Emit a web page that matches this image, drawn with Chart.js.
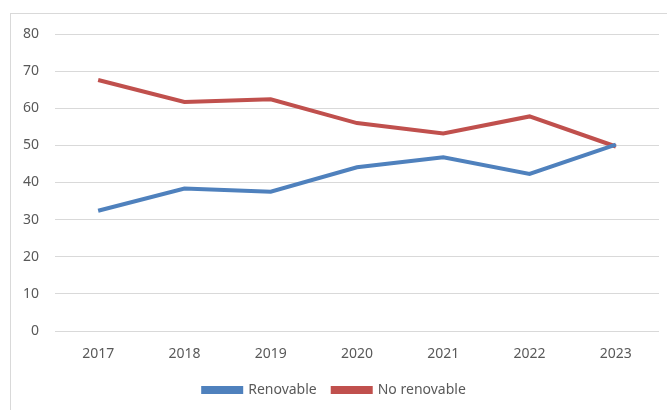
<!DOCTYPE html>
<html>
<head>
  <title>Renovable vs No renovable</title>
  <script src="https://cdn.jsdelivr.net/npm/chart.js"></script>
  <style>
    html, body {
      margin: 0;
      padding: 0;
      background: #ffffff;
    }
    #wrap {
      position: relative;
      width: 667px;
      height: 410px;
      overflow: hidden;
    }
  </style>
</head>
<body>
  <div id="wrap">
    <canvas id="energyChart" width="667" height="410"></canvas>
  </div>

  <script>
    const years = ['2017', '2018', '2019', '2020', '2021', '2022', '2023'];
    const renovable = [32.4, 38.4, 37.5, 44.1, 46.8, 42.3, 50.2];
    const noRenovable = [67.6, 61.7, 62.4, 56.0, 53.2, 57.8, 49.7];
    const yTicks = [0, 10, 20, 30, 40, 50, 60, 70, 80];

    const textColor = '#595959';
    const font = { family: '"Noto Sans", sans-serif', size: 14 };

    // light grey frame around the chart object
    const framePlugin = {
      id: 'frame',
      beforeDraw(chart) {
        const ctx = chart.ctx;
        ctx.save();
        ctx.strokeStyle = '#d9d9d9';
        ctx.lineWidth = 1;
        ctx.strokeRect(10.5, 13.5, 700, 450);
        ctx.restore();
      }
    };

    const ctx = document.getElementById('energyChart').getContext('2d');
    new Chart(ctx, {
      type: 'line',
      data: {
        labels: years,
        datasets: [
          {
            label: 'Renovable',
            data: renovable,
            borderColor: '#4f81bd',
            backgroundColor: '#4f81bd',
            borderWidth: 4,
            pointRadius: 0,
            tension: 0
          },
          {
            label: 'No renovable',
            data: noRenovable,
            borderColor: '#c0504d',
            backgroundColor: '#c0504d',
            borderWidth: 4,
            pointRadius: 0,
            tension: 0
          }
        ]
      },
      options: {
        responsive: false,
        animation: false,
        layout: {
          padding: { left: 10, right: 8, top: 34, bottom: 3 }
        },
        plugins: {
          legend: {
            position: 'bottom',
            labels: {
              color: textColor,
              font: font,
              boxWidth: 38,
              boxHeight: 4,
              padding: 16
            }
          },
          tooltip: { enabled: false }
        },
        scales: {
          x: {
            offset: true,
            afterFit(scale) {
              scale.height = 36;
            },
            grid: { display: false, drawTicks: false },
            border: { display: false },
            ticks: { color: textColor, font: font, padding: 15 }
          },
          y: {
            min: 0,
            max: 80,
            afterBuildTicks(scale) {
              scale.ticks = yTicks.map(v => ({ value: v }));
            },
            afterFit(scale) {
              scale.width = 45;
            },
            grid: { color: '#d9d9d9', lineWidth: 1, drawTicks: false },
            border: { display: false },
            ticks: { color: textColor, font: font, padding: 16 }
          }
        }
      },
      plugins: [framePlugin]
    });
  </script>
</body>
</html>
